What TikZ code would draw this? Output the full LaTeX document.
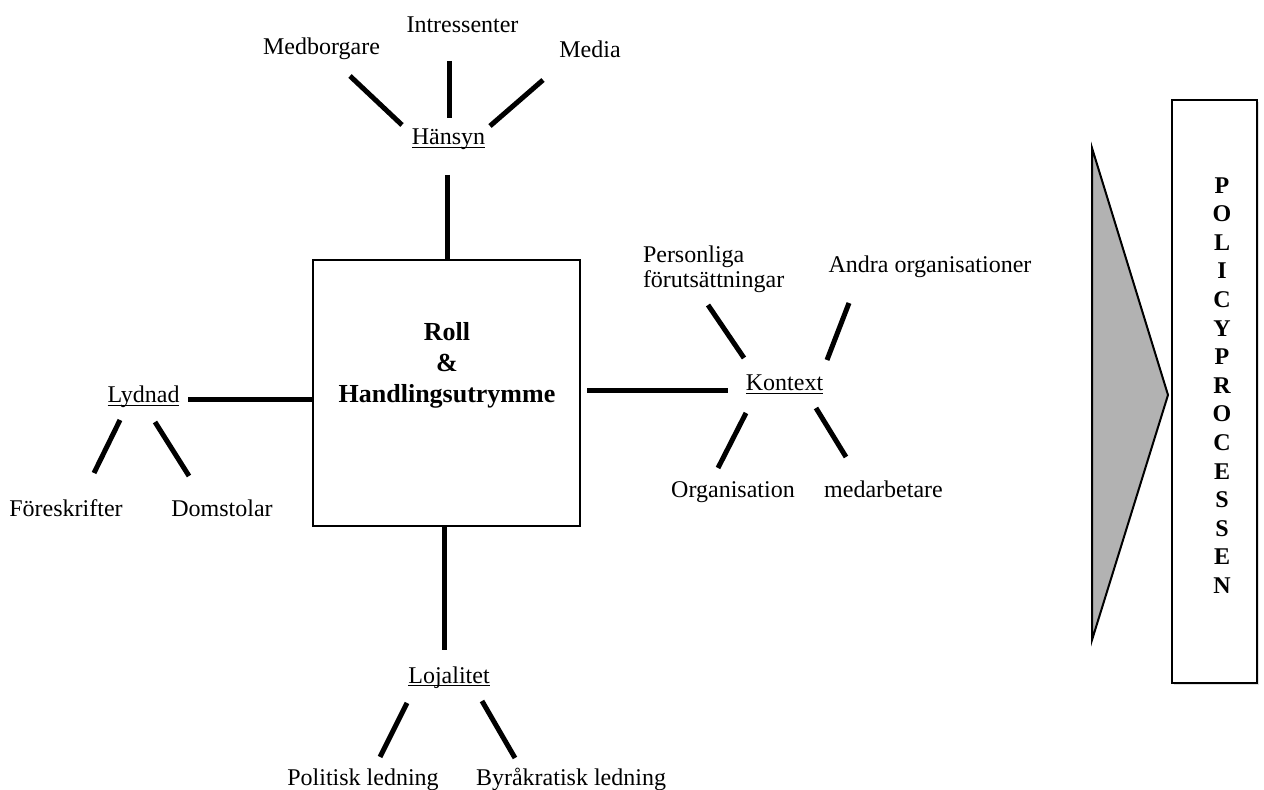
\documentclass[tikz,border=0pt]{standalone}
\usepackage{fontspec}
\setmainfont{Liberation Serif}
\usetikzlibrary{calc,shadows}
\newcommand\myul[1]{\setbox0\hbox{#1}\rlap{\rule[-1.6pt]{\wd0}{0.55pt}}\box0}
\begin{document}
\begin{tikzpicture}[x=0.5pt,y=-0.5pt,
  txt/.style={inner sep=0pt, outer sep=0pt, anchor=base, font=\fontsize{12}{12.5}\selectfont},
  conn/.style={line width=2.5pt, line cap=butt},
  boxtxt/.style={inner sep=0pt, outer sep=0pt, anchor=base, font=\bfseries\fontsize{13}{15}\selectfont},
  mainbox/.style={draw, line width=1pt, fill=white, inner sep=0pt, outer sep=0pt},
]
\useasboundingbox (0,0) rectangle (1264,790);

% central box
\node[mainbox, minimum width=133.5pt, minimum height=133pt] (box) at (446.5,393) {};
\node[boxtxt] (roll) at (447,341) {Roll};
\node[boxtxt] (amp) at (447,372) {\&};
\node[boxtxt] (handl) at (447,403) {Handlingsutrymme};

% top group
\node[txt] (medb) at (321.5,55) {Medborgare};
\node[txt] (intr) at (462.5,33) {Intressenter};
\node[txt] (media) at (590,58) {Media};
\node[txt] (hansyn) at (448.5,145) {\myul{Hänsyn}};
\draw[conn] ($(medb.base)+(28.5,21)$) -- ($(hansyn.base)+(-46.5,-20)$);
\draw[conn] ($(intr.base)+(-13.5,28)$) -- ($(hansyn.base)+(0.5,-27)$);
\draw[conn] ($(media.base)+(-47,22)$) -- ($(hansyn.base)+(41.5,-19)$);
\draw[conn] ($(hansyn.base)+(-1.5,30)$) -- ($(box.north)+(0.5,0)$);

% right group
\node[txt, anchor=north west, align=left] (pers) at (643,245.5) {Personliga\\förutsättningar};
\node[txt] (andra) at (930,273) {Andra organisationer};
\node[txt] (kontext) at (784.5,391) {\myul{Kontext}};
\node[txt] (org) at (733,498) {Organisation};
\node[txt] (medarb) at (883.5,498) {medarbetare};
\draw[conn] ($(box.east)+(7,-2)$) -- ($(kontext.base)+(-56.5,0)$);
\draw[conn] ($(pers.north west)+(65,59.5)$) -- ($(kontext.base)+(-40.5,-33)$);
\draw[conn] ($(andra.base)+(-81,30)$) -- ($(kontext.base)+(42.5,-31)$);
\draw[conn] ($(kontext.base)+(-38.5,22)$) -- ($(org.base)+(-15,-30)$);
\draw[conn] ($(kontext.base)+(31.5,17)$) -- ($(medarb.base)+(-37.5,-41)$);

% left group
\node[txt] (lydnad) at (143.5,403) {\myul{Lydnad}};
\node[txt] (fores) at (66,517) {Föreskrifter};
\node[txt] (domst) at (222,517) {Domstolar};
\draw[conn] ($(lydnad.base)+(44.5,-3)$) -- ($(box.west)+(0,7)$);
\draw[conn] ($(lydnad.base)+(-23.5,17)$) -- ($(fores.base)+(28,-44)$);
\draw[conn] ($(lydnad.base)+(11.5,19)$) -- ($(domst.base)+(-33,-41)$);

% bottom group
\node[txt] (lojal) at (449,683) {\myul{Lojalitet}};
\node[txt] (polit) at (363,785) {Politisk ledning};
\node[txt] (byra) at (571,785) {Byråkratisk ledning};
\draw[conn] ($(box.south)+(-2.5,0)$) -- ($(lojal.base)+(-5,-33)$);
\draw[conn] ($(lojal.base)+(-42,20)$) -- ($(polit.base)+(17,-28)$);
\draw[conn] ($(lojal.base)+(33,18)$) -- ($(byra.base)+(-56,-27)$);

% right panel
\draw[line width=1pt, fill=black!30, line join=miter] (1092,148) -- (1168,395) -- (1092,640) -- cycle;
\node[mainbox, minimum width=42.5pt, minimum height=291.5pt,
      drop shadow={shadow xshift=1.2pt, shadow yshift=-1.2pt, opacity=0.25}] (policybox) at (1214.5,391.5) {};
\node[inner sep=0pt, anchor=north, align=center, font=\bfseries\fontsize{12}{14.3}\selectfont] (policy) at (1222,177)
  {P\\O\\L\\I\\C\\Y\\P\\R\\O\\C\\E\\S\\S\\E\\N};
\end{tikzpicture}
\end{document}
